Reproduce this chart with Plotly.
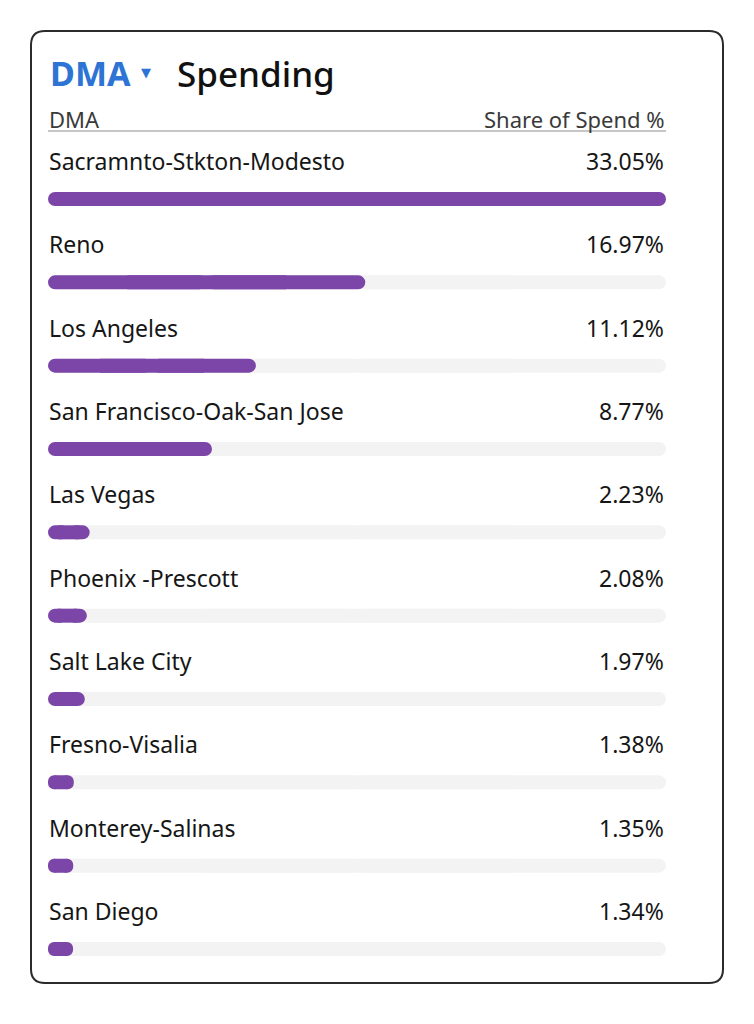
import plotly.graph_objects as go

dmas = [
    "Sacramnto-Stkton-Modesto",
    "Reno",
    "Los Angeles",
    "San Francisco-Oak-San Jose",
    "Las Vegas",
    "Phoenix -Prescott",
    "Salt Lake City",
    "Fresno-Visalia",
    "Monterey-Salinas",
    "San Diego",
]
shares = [33.05, 16.97, 11.12, 8.77, 2.23, 2.08, 1.97, 1.38, 1.35, 1.34]
value_labels = [f"{v:.2f}%" for v in shares]

# page body has an 8px margin, so draw in a slightly smaller box
OFF = 8
W, H = 754 - 2 * OFF, 1024 - 2 * OFF
FONT = "Noto Sans"
PURPLE = "#7c46a8"
TRACK = "#f3f3f3"
BLUE = "#2d74d5"


def px(x):
    return (x - OFF) / W


def py(y):
    return 1 - (y - OFF) / H


# rows: bar centres run 199 .. 949 px, 10 rows
row_h = (949 - 199) / 9
y_top = 199 - row_h / 2
y_bot = y_top + row_h * len(dmas)
bar_w = 14 / row_h
top = max(shares)


def pill(values, color):
    # rounded left half + rounded right half + square middle = pill shape
    half = [v / 2 for v in values]
    quarter = [v / 4 for v in values]
    rounded = dict(color=color, cornerradius=7, line=dict(width=0))
    square = dict(color=color, line=dict(width=0))
    return [
        go.Bar(y=dmas, x=[-h for h in half], base=half, orientation="h",
               width=bar_w, marker=rounded, hoverinfo="skip"),
        go.Bar(y=dmas, x=half, base=half, orientation="h",
               width=bar_w, marker=rounded, hoverinfo="skip"),
        go.Bar(y=dmas, x=half, base=quarter, orientation="h",
               width=bar_w, marker=square, hoverinfo="skip"),
    ]


fig = go.Figure()
for tr in pill([top] * len(dmas), TRACK) + pill(shares, PURPLE):
    fig.add_trace(tr)

annotations = []
for name, lab in zip(dmas, value_labels):
    annotations.append(dict(
        text=name, xref="paper", yref="y", x=px(47), y=name,
        xanchor="left", yanchor="middle", yshift=38, showarrow=False,
        font=dict(family=FONT, size=23, color="#161616"),
    ))
    annotations.append(dict(
        text=lab, xref="x", yref="y", x=top, y=name,
        xanchor="right", yanchor="middle", yshift=38, showarrow=False,
        font=dict(family=FONT, size=23, color="#161616"),
    ))

# title and header
annotations += [
    dict(text="<b>DMA</b>", xref="paper", yref="paper", x=px(48), y=py(73),
         xanchor="left", yanchor="middle", showarrow=False,
         font=dict(family=FONT, size=34, color=BLUE)),
    dict(text="▼", xref="paper", yref="paper", x=px(146), y=py(72),
         xanchor="center", yanchor="middle", showarrow=False,
         font=dict(family="DejaVu Sans", size=13, color=BLUE)),
    dict(text="Spending", xref="paper", yref="paper", x=px(175), y=py(73),
         xanchor="left", yanchor="middle", showarrow=False,
         font=dict(family=FONT, size=35, color="#111111", weight=500)),
    dict(text="DMA", xref="paper", yref="paper", x=px(47), y=py(119),
         xanchor="left", yanchor="middle", showarrow=False,
         font=dict(family=FONT, size=22, color="#3a3a3a")),
    dict(text="Share of Spend %", xref="paper", yref="paper", x=px(667), y=py(119),
         xanchor="right", yanchor="middle", showarrow=False,
         font=dict(family=FONT, size=22, color="#3a3a3a")),
]

# card outline with rounded corners
x0, x1, y0, y1, r = px(31), px(723), py(31), py(983), 14
rx, ry = r / W, r / H
card = (
    f"M {x0 + rx},{y0} L {x1 - rx},{y0} Q {x1},{y0} {x1},{y0 - ry} "
    f"L {x1},{y1 + ry} Q {x1},{y1} {x1 - rx},{y1} "
    f"L {x0 + rx},{y1} Q {x0},{y1} {x0},{y1 + ry} "
    f"L {x0},{y0 - ry} Q {x0},{y0} {x0 + rx},{y0} Z"
)
shapes = [
    dict(type="path", xref="paper", yref="paper", path=card,
         line=dict(color="#2b2b2b", width=2), fillcolor="rgba(0,0,0,0)"),
    dict(type="line", xref="paper", yref="paper", x0=px(48), x1=px(666),
         y0=py(131), y1=py(131), line=dict(color="#c6c6c6", width=2)),
]

fig.update_layout(
    width=W, height=H, margin=dict(l=0, r=0, t=0, b=0),
    paper_bgcolor="white", plot_bgcolor="white",
    barmode="overlay", showlegend=False,
    xaxis=dict(domain=[px(48), px(666)], range=[0, top], visible=False,
               fixedrange=True),
    yaxis=dict(domain=[py(y_bot), py(y_top)], range=[len(dmas) - 0.5, -0.5],
               visible=False, fixedrange=True),
    annotations=annotations, shapes=shapes,
)

fig.write_html("out.html", config={"displayModeBar": False})
